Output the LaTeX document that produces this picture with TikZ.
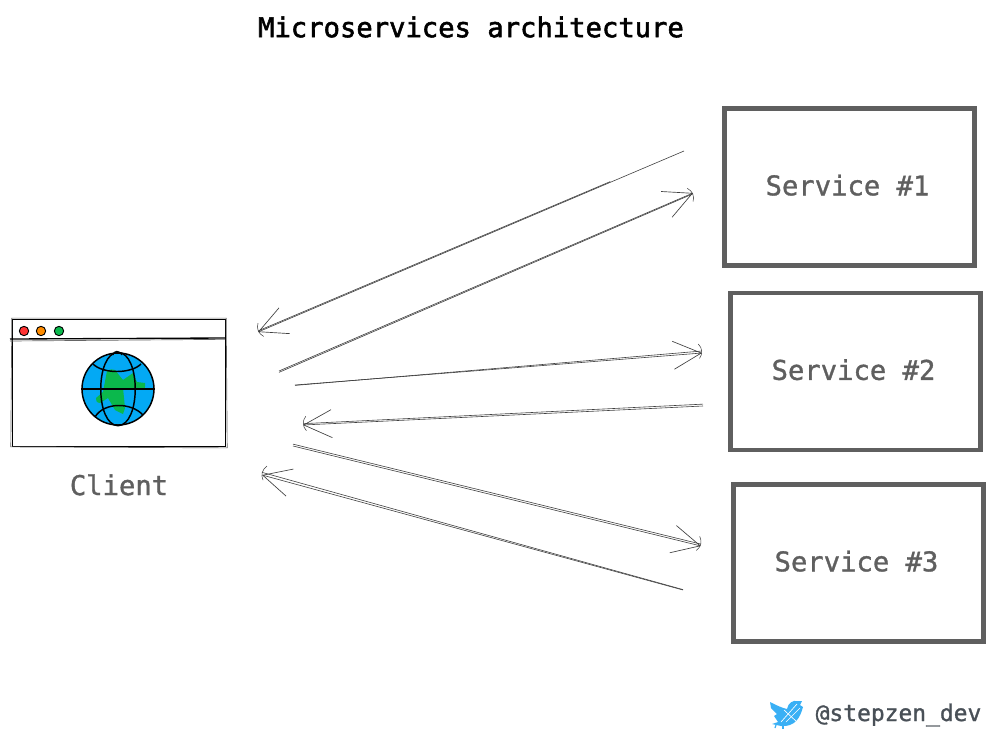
\documentclass[tikz,border=0pt]{standalone}
\usepackage{fontspec}
\setmonofont{DejaVu Sans Mono}[FakeBold=1.2]
\newfontfamily\titlefont{DejaVu Sans Mono}[FakeBold=2]
\usetikzlibrary{arrows.meta, positioning}

\definecolor{inkgray}{HTML}{5F5F5F}
\definecolor{handlegray}{HTML}{495057}
\definecolor{globeblue}{HTML}{03A9F4}
\definecolor{landgreen}{HTML}{0BB84C}
\definecolor{birdblue}{HTML}{3AB0F5}

\tikzset{
  servicebox/.style={draw=inkgray, line width=3.4pt, minimum width=187.5pt, minimum height=118pt, inner sep=0pt, text depth=3pt, text=inkgray, font=\ttfamily\fontsize{20.4pt}{24pt}\selectfont},
  wire/.style={draw=black!75, line width=0.45pt},
  wirehead/.style={wire, -{Straight Barb[length=21pt, width=21pt, line width=0.5pt]}},
  wireback/.style={wire, -{Arc Barb[arc=55, length=19pt, width=24pt, line width=0.4pt]}},
  windowline/.style={draw=black, line width=0.8pt},
  windowpass/.style={draw=black!60, line width=0.5pt},
  globeline/.style={draw=black, line width=1.1pt},
  dot/.style={circle, draw=black, line width=0.7pt, minimum size=7pt, inner sep=0pt}
}

\begin{document}
\begin{tikzpicture}[x=0.75pt, y=-0.75pt]

  \useasboundingbox (0,0) rectangle (993,736);

  \node (title) at (471,27) [font=\titlefont\fontsize{20.4pt}{24pt}\selectfont] {Microservices architecture};

  % client window
  \node (client) at (119,383) [windowline, draw, minimum width=160pt, minimum height=95pt, inner sep=0pt] {};
  \draw[windowpass] ([shift={(0,-1)}]client.north west) -- ([shift={(0,-1)}]client.north east) -- ([shift={(1,1)}]client.south east) -- ([shift={(-1,0)}]client.south west) -- cycle;
  \coordinate (barleft) at (10,339);
  \coordinate (barright) at (225,338);
  \draw[windowline, line width=1pt] (barleft) -- (barright);
  \draw[windowpass] ([yshift=-1.5]barleft) -- ([yshift=-1]barright);
  \node (reddot) at (24,331) [dot, fill=red!80!white] {};
  \node (amberdot) at (41,331) [dot, fill=orange!90!yellow] {};
  \node (greendot) at (59,331) [dot, fill=landgreen] {};

  % globe
  \node (globe) at (118,389) [circle, globeline, draw, fill=globeblue, minimum size=54pt, inner sep=0pt] {};
  \fill[landgreen] (107,371) .. controls (110,369) and (113,369) .. (115,370) -- (123,380) -- (133,373) -- (137,382) -- (145,383) .. controls (146,388) and (144,390) .. (142,390) -- (123,388) -- (125,408) -- (123,414) -- (115,410) -- (108,398) -- (100,403) .. controls (97,403) and (95,400) .. (96,398) -- (103,392) -- cycle;
  \draw[globeline] (globe.north) .. controls (95,353) and (95,425) .. (globe.south) .. controls (141,425) and (141,353) .. (globe.north);
  \draw[globeline] (globe.west) -- (globe.east);
  \draw[globeline] (93,364) .. controls (103,374) and (131,374) .. (141,364);
  \draw[globeline] (95,417) .. controls (104,402) and (131,402) .. (143,415);
  \draw[globeline, line width=0.7pt] (113,355) .. controls (114,350) and (119,350) .. (122,355);

  \node (clientlabel) [below=17pt of client, text=inkgray, font=\ttfamily\fontsize{20.4pt}{24pt}\selectfont] {Client};

  % services
  \node (service1) at (849.5,187) [servicebox] {Service \#1\kern3pt};
  \node (service2) at (855.5,371.5) [servicebox] {Service \#2\kern3pt};
  \node (service3) at (858.5,563) [servicebox] {Service \#3\kern3pt};

  % wire ends
  \coordinate (out1) at (684,151);
  \coordinate (in1) at (258,332);
  \coordinate (req1) at (279,371);
  \coordinate (hit1) at (693,193);
  \coordinate (req2) at (295,385);
  \coordinate (hit2) at (702,353);
  \coordinate (out2) at (703,406);
  \coordinate (in2) at (303,425);
  \coordinate (req3) at (293,446);
  \coordinate (hit3) at (701,546);
  \coordinate (out3) at (683,590);
  \coordinate (in3) at (262,475);

  \draw[wirehead] (out1) -- (in1);
  \draw[wireback, shorten <=60pt] ([yshift=0.5pt]out1) -- ([yshift=0.8pt]in1);
  \draw[wirehead] (req1) -- (hit1);
  \draw[wireback] ([yshift=-1pt]req1) -- ([yshift=-0.6pt]hit1);
  \draw[wirehead] (req2) -- (hit2);
  \draw[wireback] ([yshift=-0.3pt]req2) -- ([yshift=1.5pt]hit2);
  \draw[wirehead] (out2) -- (in2);
  \draw[wireback] ([yshift=1.4pt]out2) -- ([yshift=1pt]in2);
  \draw[wirehead] (req3) -- (hit3);
  \draw[wireback] ([yshift=1.4pt]req3) -- ([yshift=1.4pt]hit3);
  \draw[wirehead] (out3) -- (in3);
  \draw[wireback] ([yshift=0.3pt]out3) -- ([yshift=2pt]in3);

  % twitter handle
  \node (handle) at (898.5,715) [text=handlegray, font=\ttfamily\fontsize{17.2pt}{20pt}\selectfont] {@stepzen\_dev};
  \fill[birdblue] (770,702) .. controls (776,705) and (782,708) .. (787,709) .. controls (788,703) and (793,700) .. (797,701) -- (802,701) -- (800,705) -- (803,707) .. controls (800,718) and (795,727) .. (781,726) -- (772,724) -- (778,722) -- (774,716) -- (777,714) -- (771,708) -- cycle;
  \draw[white, line width=0.5pt] (781,722) -- (797,704);
  \draw[white, line width=0.5pt] (786,722) -- (800,708);
  \draw[white, line width=0.5pt] (784,710) -- (797,722);
  \draw[birdblue, line width=0.9pt] (783,725) -- (783,729);
  \draw[birdblue, line width=0.9pt] (776,725) -- (775,728);

\end{tikzpicture}
\end{document}
